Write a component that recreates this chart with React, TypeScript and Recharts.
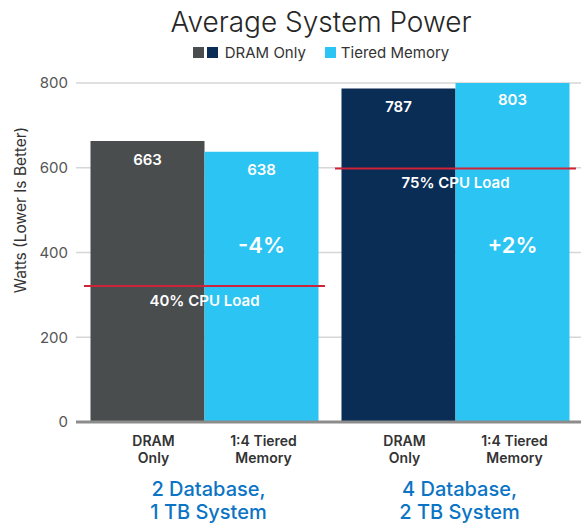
import React from "react";
import {
  Bar,
  BarChart,
  CartesianGrid,
  Cell,
  LabelList,
  ReferenceLine,
  XAxis,
  YAxis,
} from "recharts";

const groupPos = [0.5, 1.5];
const groupLines = [
  ["2 Database,", "1 TB System"],
  ["4 Database,", "2 TB System"],
];
const barNames = [
  ["DRAM", "Only"],
  ["1:4 Tiered", "Memory"],
];
const dramWatts = [663, 787];
const tieredWatts = [638, 803];
const tieredDelta = ["-4%", "+2%"];
const loadWatts = [321, 598];
const loadLabels = ["40% CPU Load", "75% CPU Load"];
const yTicks = [0, 200, 400, 600, 800];

const FONT = "Inter, 'Noto Sans', sans-serif";
const DRAM_COLORS = ["#4a4d4e", "#0a2d55"];
const TIERED_COLOR = "#2cc4f2";
const LOAD_COLOR = "#cf2339";
const GROUP_COLOR = "#0b74c4";

const chartData = groupPos.map((pos, i) => ({
  pos,
  dram: dramWatts[i],
  tiered: tieredWatts[i],
  delta: tieredDelta[i],
}));

function GroupTick(props: any) {
  const { x, y, index } = props;
  const i = index ?? 0;
  const cx = x + 4;
  return (
    <g fontFamily={FONT}>
      {barNames.map((lines, j) => (
        <text
          key={j}
          textAnchor="middle"
          fill="#333"
          fontSize={14}
          fontWeight={600}
        >
          {lines.map((ln, k) => (
            <tspan key={k} x={cx + (j === 0 ? -55 : 55)} y={y + 16 + k * 17}>
              {ln}
            </tspan>
          ))}
        </text>
      ))}
      <text textAnchor="middle" fill={GROUP_COLOR} fontSize={20} fontWeight={500}>
        {groupLines[i].map((ln, k) => (
          <tspan key={k} x={cx} y={y + 66 + k * 23}>
            {ln}
          </tspan>
        ))}
      </text>
    </g>
  );
}

function Square({ color }: { color: string }) {
  return (
    <span
      style={{ display: "inline-block", width: 11, height: 11, background: color }}
    />
  );
}

export default function App() {
  return (
    <div
      style={{
        position: "absolute",
        left: 0,
        top: 0,
        width: 581,
        height: 525,
        background: "#fff",
        fontFamily: FONT,
        overflow: "hidden",
      }}
    >
      <div
        style={{
          position: "absolute",
          left: 0,
          top: 8,
          width: 642,
          textAlign: "center",
          fontSize: 28,
          lineHeight: "28px",
          fontWeight: 300,
          color: "#262626",
          whiteSpace: "nowrap",
        }}
      >
        Average System Power
      </div>
      <div
        style={{
          position: "absolute",
          left: 0,
          top: 45,
          width: 642,
          height: 15,
          display: "flex",
          justifyContent: "center",
          alignItems: "center",
          fontSize: 15,
          lineHeight: "15px",
          color: "#333",
          whiteSpace: "nowrap",
        }}
      >
        <Square color={DRAM_COLORS[0]} />
        <span style={{ width: 3 }} />
        <Square color={DRAM_COLORS[1]} />
        <span style={{ marginLeft: 7 }}>DRAM Only</span>
        <span style={{ width: 19 }} />
        <Square color={TIERED_COLOR} />
        <span style={{ marginLeft: 5 }}>Tiered Memory</span>
      </div>
      <BarChart
        width={581}
        height={525}
        data={chartData}
        margin={{ top: 83, right: 0, bottom: 0, left: 0 }}
        barCategoryGap={11.5}
        barGap={0}
        style={{ position: "absolute", left: 0, top: 0 }}
      >
        <CartesianGrid
          vertical={false}
          stroke="#d6d6d6"
          strokeWidth={1.5}
        />
        <XAxis
          dataKey="pos"
          type="number"
          domain={[0, 2]}
          ticks={groupPos}
          allowDataOverflow
          height={103}
          padding={{ left: 3, right: 0 }}
          tickLine={false}
          axisLine={{ stroke: "#8c8c8c", strokeWidth: 3 }}
          tick={<GroupTick />}
          interval={0}
        />
        <YAxis
          width={76}
          domain={[0, 800]}
          ticks={yTicks}
          allowDataOverflow
          tickLine={false}
          axisLine={false}
          tick={{ fill: "#555", fontSize: 15, fontFamily: FONT }}
          label={{
            content: () => (
              <text
                x={20}
                y={210}
                transform="rotate(-90 20 210)"
                textAnchor="middle"
                dominantBaseline="central"
                fill="#333"
                fontSize={15.5}
                fontFamily={FONT}
              >
                Watts (Lower Is Better)
              </text>
            ),
          }}
        />
        <Bar dataKey="dram" isAnimationActive={false}>
          {chartData.map((_, i) => (
            <Cell key={i} fill={DRAM_COLORS[i]} />
          ))}
          <LabelList
            dataKey="dram"
            position="insideTop"
            offset={13}
            fill="#fff"
            fontSize={15}
            fontWeight={600}
            fontFamily={FONT}
          />
        </Bar>
        <Bar dataKey="tiered" fill={TIERED_COLOR} isAnimationActive={false}>
          <LabelList
            dataKey="tiered"
            position="insideTop"
            offset={13}
            fill="#fff"
            fontSize={15}
            fontWeight={600}
            fontFamily={FONT}
          />
          <LabelList
            dataKey="delta"
            position="insideBottom"
            offset={169}
            fill="#fff"
            fontSize={22}
            fontWeight={600}
            fontFamily={FONT}
          />
        </Bar>
        {loadWatts.map((w, i) => (
          <ReferenceLine
            key={i}
            segment={[
              { x: i + 0.02, y: w },
              { x: i + 0.98, y: w },
            ]}
            stroke={LOAD_COLOR}
            strokeWidth={2}
            label={{
              value: loadLabels[i],
              position: "bottom",
              offset: 9,
              fill: "#fff",
              fontSize: 15,
              fontWeight: 600,
              fontFamily: FONT,
            }}
          />
        ))}
      </BarChart>
    </div>
  );
}
